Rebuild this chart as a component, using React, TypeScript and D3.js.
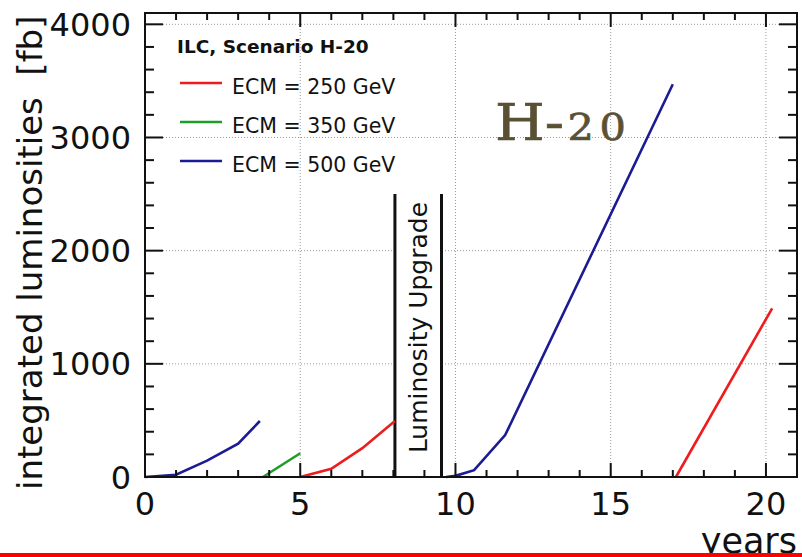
import React, { useEffect, useRef } from "react";
import * as d3 from "d3";

// ECM = 500 GeV, first run
const blueAYears = [0, 1, 2, 3, 3.7];
const blueALumi = [0, 20, 145, 295, 495];
// ECM = 350 GeV
const greenYears = [3.8, 5];
const greenLumi = [0, 210];
// ECM = 250 GeV, first run
const redAYears = [5, 6, 7, 8.05];
const redALumi = [0, 72, 255, 495];
// ECM = 500 GeV, after upgrade
const blueBYears = [9.7, 10, 10.6, 11.6, 17];
const blueBLumi = [0, 10, 60, 370, 3470];
// ECM = 250 GeV, after upgrade
const redBYears = [17.1, 20.2];
const redBLumi = [0, 1490];

const legendLabels = ["ECM = 250 GeV", "ECM = 350 GeV", "ECM = 500 GeV"];
const legendColors = ["#ee1c1c", "#1e9e28", "#1b1b94"];

const xTicks = [0, 5, 10, 15, 20];
const yTicks = [0, 1000, 2000, 3000, 4000];
const upgradeStart = 8.05;
const upgradeEnd = 9.55;
const upgradeTop = 2500;

const W = 802;
const H = 557;

export default function App() {
  const svgRef = useRef<SVGSVGElement>(null);

  useEffect(() => {
    const svg = d3.select(svgRef.current);
    svg.selectAll("*").remove();

    const x = d3.scaleLinear().domain([0, 21]).range([145, 797]);
    const y = d3.scaleLinear().domain([0, 4100]).range([477, 13]);
    const [x0, x1] = x.range();
    const [y0, y1] = y.range();
    const font = "'DejaVu Sans', sans-serif";

    svg.append("rect").attr("width", W).attr("height", H).attr("fill", "white");

    // dotted grid
    const grid = svg.append("g").attr("stroke", "#9a9a9a").attr("stroke-width", 1)
      .attr("stroke-dasharray", "1,2");
    xTicks.filter((t) => t > 0).forEach((t) => {
      grid.append("line").attr("x1", x(t)).attr("x2", x(t)).attr("y1", y0).attr("y2", y1);
    });
    yTicks.filter((t) => t > 0).forEach((t) => {
      grid.append("line").attr("x1", x0).attr("x2", x1).attr("y1", y(t)).attr("y2", y(t));
    });

    // luminosity upgrade box
    svg.append("rect")
      .attr("x", x(upgradeStart)).attr("y", y(upgradeTop))
      .attr("width", x(upgradeEnd) - x(upgradeStart))
      .attr("height", y(0) - y(upgradeTop))
      .attr("fill", "white");
    [upgradeStart, upgradeEnd].forEach((t) => {
      svg.append("line")
        .attr("x1", x(t)).attr("x2", x(t))
        .attr("y1", y(upgradeTop)).attr("y2", y(0))
        .attr("stroke", "#111").attr("stroke-width", 3);
    });
    const bx = (x(upgradeStart) + x(upgradeEnd)) / 2;
    const by = (y(upgradeTop) + y(0)) / 2;
    svg.append("text")
      .attr("transform", `translate(${bx + 9},${by - 8}) rotate(-90)`)
      .attr("text-anchor", "middle")
      .attr("font-family", font)
      .attr("font-size", 25)
      .attr("fill", "#111")
      .text("Luminosity Upgrade");

    // curves
    const line = d3.line<[number, number]>()
      .x((d) => x(d[0]))
      .y((d) => y(d[1]));
    const series: [number[], number[], string][] = [
      [blueAYears, blueALumi, legendColors[2]],
      [greenYears, greenLumi, legendColors[1]],
      [redAYears, redALumi, legendColors[0]],
      [blueBYears, blueBLumi, legendColors[2]],
      [redBYears, redBLumi, legendColors[0]],
    ];
    series.forEach(([xs, ys, c]) => {
      svg.append("path")
        .datum(xs.map((v, i) => [v, ys[i]] as [number, number]))
        .attr("fill", "none")
        .attr("stroke", c)
        .attr("stroke-width", 2.6)
        .attr("d", line);
    });

    // frame and ticks
    svg.append("rect")
      .attr("x", x0).attr("y", y1)
      .attr("width", x1 - x0).attr("height", y0 - y1)
      .attr("fill", "none").attr("stroke", "#111").attr("stroke-width", 2);

    const ticks = svg.append("g").attr("stroke", "#111").attr("stroke-width", 2);
    d3.range(0, 22, 1).forEach((t) => {
      const len = t % 5 === 0 ? 14 : 7;
      ticks.append("line").attr("x1", x(t)).attr("x2", x(t)).attr("y1", y0).attr("y2", y0 - len);
      ticks.append("line").attr("x1", x(t)).attr("x2", x(t)).attr("y1", y1).attr("y2", y1 + len);
    });
    d3.range(0, 4001, 200).forEach((t) => {
      const len = t % 1000 === 0 ? 18 : 9;
      ticks.append("line").attr("x1", x0).attr("x2", x0 + len).attr("y1", y(t)).attr("y2", y(t));
      ticks.append("line").attr("x1", x1).attr("x2", x1 - len).attr("y1", y(t)).attr("y2", y(t));
    });

    // tick labels
    yTicks.forEach((t) => {
      svg.append("text")
        .attr("x", 131).attr("y", y(t) + 11.5)
        .attr("text-anchor", "end")
        .attr("font-family", font).attr("font-size", 32).attr("fill", "#111")
        .text(t);
    });
    xTicks.forEach((t) => {
      svg.append("text")
        .attr("x", x(t)).attr("y", 515)
        .attr("text-anchor", "middle")
        .attr("font-family", font).attr("font-size", 32).attr("fill", "#111")
        .text(t);
    });

    // axis titles
    svg.append("text")
      .attr("x", 797).attr("y", 553)
      .attr("text-anchor", "end")
      .attr("font-family", font).attr("font-size", 35).attr("fill", "#111")
      .text("years");
    svg.append("text")
      .attr("transform", "translate(42,490) rotate(-90)")
      .attr("font-family", font).attr("font-size", 34).attr("fill", "#111")
      .text("integrated luminosities\u00a0 [fb]");

    // legend
    svg.append("text")
      .attr("x", 177).attr("y", 53)
      .attr("font-family", font).attr("font-size", 18.5).attr("font-weight", 700)
      .attr("fill", "#111")
      .text("ILC, Scenario H-20");
    legendLabels.forEach((lab, i) => {
      const ly = 83 + i * 39;
      svg.append("line")
        .attr("x1", 180).attr("x2", 222).attr("y1", ly).attr("y2", ly)
        .attr("stroke", legendColors[i]).attr("stroke-width", 2.6);
      svg.append("text")
        .attr("x", 232).attr("y", ly + 11)
        .attr("font-family", font).attr("font-size", 20.5).attr("fill", "#111")
        .text(lab);
    });

    // scenario tag
    const tag = svg.append("text")
      .attr("transform", "translate(495,140) scale(1.12,1)")
      .attr("font-family", "'DejaVu Serif', serif")
      .attr("fill", "#5a5134")
      .attr("stroke", "#5a5134")
      .attr("stroke-width", 0.7);
    tag.append("tspan").attr("font-size", 51).text("H-");
    tag.append("tspan").attr("font-size", 37).attr("dx", 3).attr("letter-spacing", 5).text("20");

    // red strip at the bottom
    svg.append("rect").attr("x", 0).attr("y", 553).attr("width", W).attr("height", 4)
      .attr("fill", "#ff0000");
  }, []);

  return (
    <svg
      ref={svgRef}
      width={W}
      height={H}
      style={{ position: "absolute", left: 0, top: 0, display: "block" }}
    />
  );
}
